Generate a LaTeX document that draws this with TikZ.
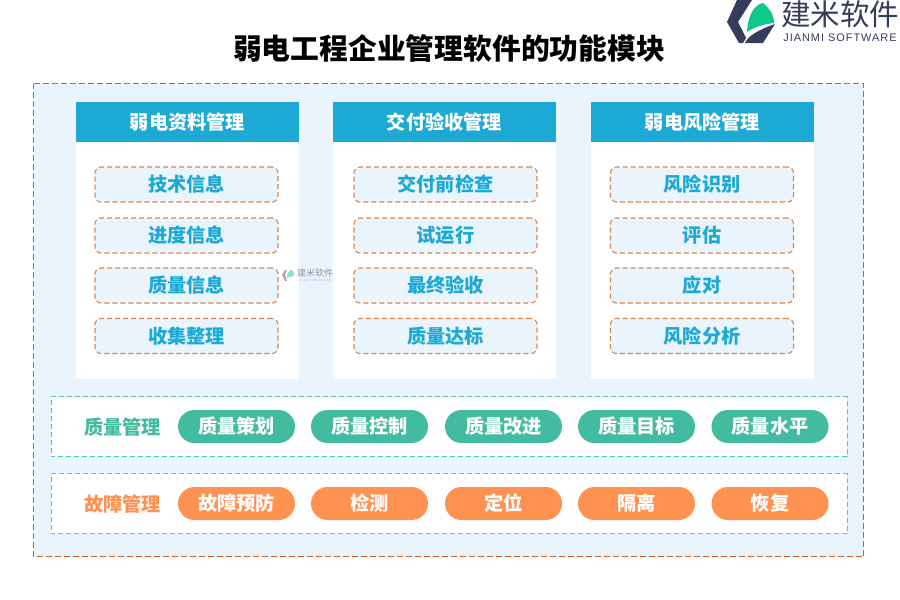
\documentclass[tikz,border=0pt]{standalone}
\usepackage{fontspec}
\setmainfont{Noto Sans CJK SC}
\newfontfamily\latinfont[LetterSpace=8.5]{Liberation Sans}
\usetikzlibrary{positioning}
\definecolor{panelblue}{HTML}{EAF4FD}
\definecolor{headblue}{HTML}{1CA9D3}
\definecolor{framebrown}{HTML}{C8651B}
\definecolor{itemorange}{HTML}{D9874A}
\definecolor{bandgreen}{HTML}{4CCB9A}
\definecolor{bandorange}{HTML}{F39A1F}
\definecolor{pillgreen}{HTML}{43BBA1}
\definecolor{pillorange}{HTML}{FF9151}
\definecolor{logodark}{HTML}{343E5C}
\definecolor{logogreen}{HTML}{0CC98A}
\tikzset{
  headbox/.style={rectangle, fill=headblue, text=white, minimum width=223pt, minimum height=40pt, inner sep=0pt, font=\fontsize{19.2}{19.2}\selectfont\bfseries},
  itembox/.style={rectangle, draw=itemorange, fill=panelblue, dashed, dash pattern=on 5pt off 3pt, line width=1.1pt, rounded corners=6pt, text=headblue, minimum width=183pt, minimum height=35pt, inner sep=0pt, font=\fontsize{19.2}{19.2}\selectfont\bfseries},
  pillgood/.style={rectangle, fill=pillgreen, text=white, rounded corners=16.5pt, minimum width=117pt, minimum height=33pt, inner sep=0pt, font=\fontsize{19.2}{19.2}\selectfont\bfseries},
  pillbad/.style={rectangle, fill=pillorange, text=white, rounded corners=16.5pt, minimum width=117pt, minimum height=33pt, inner sep=0pt, font=\fontsize{19.2}{19.2}\selectfont\bfseries},
  bandlabel/.style={inner sep=0pt, font=\fontsize{19.2}{19.2}\selectfont\bfseries},
}
\begin{document}
\begin{tikzpicture}[x=1pt,y=-1pt]
      \useasboundingbox (0,0) rectangle (900,600);
      \fill[white] (0,0) rectangle (900,600);
      \node at(449,48) [inner sep=0pt, font=\fontsize{28.8}{28.8}\selectfont\bfseries] (title) {弱电工程企业管理软件的功能模块};

      % logo
      \fill[logodark] (737,0)--(752,0)--(738,22)--(746,38)--(743,43)--(739,43)--(727,22)--cycle;
      \fill[logogreen] (747,32)..controls (748,15) and (754,5) .. (763,3)..controls (769,8) and (774,14) .. (774,23)..controls (764,24) and (752,28) .. (747,32)--cycle;
      \fill[logodark] (745,43)..controls (748,36) and (758,30) .. (775,24)--(763,43)--cycle;
      \node at(840,14) [inner sep=0pt, text=logodark, font=\fontsize{29.5}{29.5}\selectfont] (logo-name) {建米软件};
      \node at(840,38) [inner sep=0pt, text=logodark, font=\fontsize{11}{11}\latinfont] (logo-sub) {JIANMI SOFTWARE};

      \draw[framebrown, fill=panelblue, dashed, dash pattern=on 6pt off 3pt, line width=0.8pt]
      (33.5,83.5)--(863.5,83.5)--(863.5,556.5)--(33.5,556.5)--cycle;

      \fill[white] (76,102) rectangle (299,379);
      \fill[white] (333,102) rectangle (556,379);
      \fill[white] (591,102) rectangle (814,379);

      \node at(187.5,122) [headbox] (data) {弱电资料管理};
      \node at(186.5,184.5) [itembox] (data-tech) {技术信息};
      \node at(186.5,235.5) [itembox] (data-progress) {进度信息};
      \node at(186.5,285.5) [itembox] (data-quality) {质量信息};
      \node at(186.5,336) [itembox] (data-collect) {收集整理};

      \node at(444.5,122) [headbox] (accept) {交付验收管理};
      \node at(445.5,184.5) [itembox] (accept-check) {交付前检查};
      \node at(445.5,235.5) [itembox] (accept-trial) {试运行};
      \node at(445.5,285.5) [itembox] (accept-final) {最终验收};
      \node at(445.5,336) [itembox] (accept-standard) {质量达标};

      \node at(702.5,122) [headbox] (risk) {弱电风险管理};
      \node at(702,184.5) [itembox] (risk-identify) {风险识别};
      \node at(702,235.5) [itembox] (risk-assess) {评估};
      \node at(702,285.5) [itembox] (risk-respond) {应对};
      \node at(702,336) [itembox] (risk-analyse) {风险分析};

      % watermark
      \fill[logodark!45] (285,270)--(282,275)--(285,281)--(287,281)--(285,275)--(287,270)--cycle;
      \fill[logogreen!50] (287,278)..controls (287,273) and (289,270) .. (292,270)..controls (294,272) and (294,274) .. (294,276)..controls (291,276) and (289,277) .. (287,278)--cycle;
      \node at(315,273.5) [inner sep=0pt, text=logodark!55, font=\fontsize{9}{9}\selectfont] (mark-name) {建米软件};
      \node at(315,280) [inner sep=0pt, text=logodark!35, font=\fontsize{3.2}{3.2}\latinfont] (mark-sub) {JIANMI SOFTWARE};

      \draw[bandgreen, fill=white, dashed, dash pattern=on 5pt off 3pt, line width=0.8pt]
      (51,396.5)--(847,396.5)--(847,456.5)--(51,456.5)--cycle;
      \node at(122.5,427) [bandlabel, text=pillgreen] (quality) {质量管理};
      \node at(236.5,426.5) [pillgood] (quality-plan) {质量策划};
      \node at(369.5,426.5) [pillgood] (quality-control) {质量控制};
      \node at(503.5,426.5) [pillgood] (quality-improve) {质量改进};
      \node at(636.5,426.5) [pillgood] (quality-goal) {质量目标};
      \node at(770,426.5) [pillgood] (quality-level) {质量水平};

      \draw[bandorange, fill=white, dashed, dash pattern=on 5pt off 3pt, line width=0.8pt]
      (51,473.5)--(847,473.5)--(847,533.5)--(51,533.5)--cycle;
      \node at(122.5,504.5) [bandlabel, text=pillorange] (fault) {故障管理};
      \node at(236.5,503.5) [pillbad] (fault-prevent) {故障预防};
      \node at(369.5,503.5) [pillbad] (fault-detect) {检测};
      \node at(503.5,503.5) [pillbad] (fault-locate) {定位};
      \node at(636.5,503.5) [pillbad] (fault-isolate) {隔离};
      \node at(770,503.5) [pillbad] (fault-recover) {恢复};
\end{tikzpicture}
\end{document}
